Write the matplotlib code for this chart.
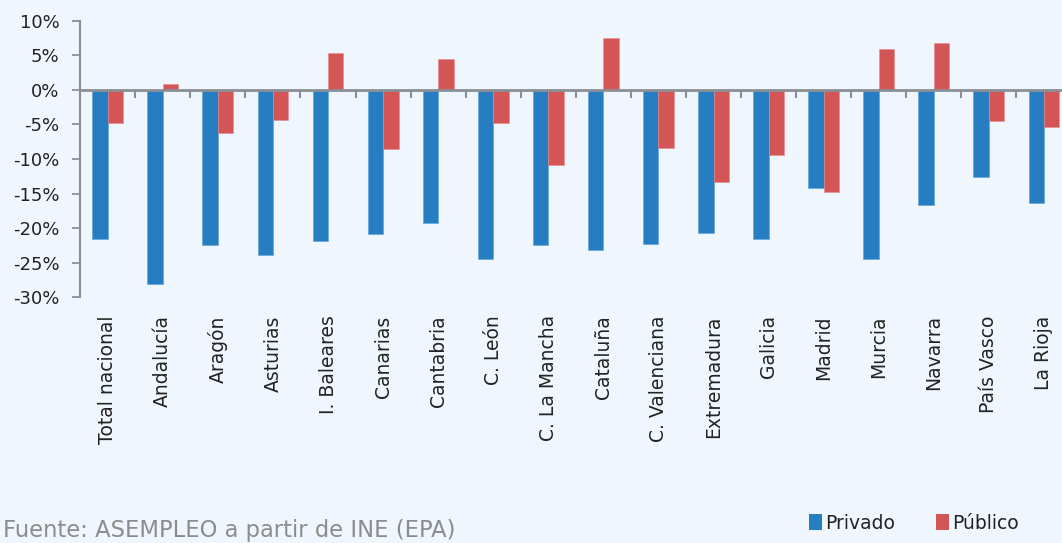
import matplotlib
matplotlib.use("Agg")
import matplotlib.pyplot as plt
import numpy as np
from matplotlib.patches import Patch
from matplotlib.ticker import FuncFormatter, FixedLocator

categories = ["Total nacional", "Andalucía", "Aragón", "Asturias", "I. Baleares",
              "Canarias", "Cantabria", "C. León", "C. La Mancha", "Cataluña",
              "C. Valenciana", "Extremadura", "Galicia", "Madrid", "Murcia",
              "Navarra", "País Vasco", "La Rioja"]
privado = [-21.6, -28.1, -22.5, -23.9, -21.8, -20.9, -19.3, -24.4, -22.5, -23.2,
           -22.3, -20.7, -21.6, -14.2, -24.4, -16.7, -12.6, -16.3]
publico = [-4.8, 0.8, -6.3, -4.3, 5.4, -8.6, 4.5, -4.8, -10.9, 7.5,
           -8.4, -13.3, -9.4, -14.7, 5.9, 6.8, -4.5, -5.4]
yticks = [-30, -25, -20, -15, -10, -5, 0, 5, 10]

BG = "#f0f6fd"
BLUE = "#267dc2"
RED = "#d45555"
GRAY = "#8a8f96"

fig = plt.figure(figsize=(10.62, 5.43), dpi=100, facecolor=BG)
ax = fig.add_axes([80.2 / 1062, 1 - 297.3 / 543, 1 - 80.2 / 1062, (297.3 - 20.7) / 543])
ax.set_facecolor(BG)

n = len(categories)
x = np.arange(n)
w = 0.28
ax.bar(x - w / 2, privado, width=w, color=BLUE, edgecolor="#5aa0d8", linewidth=0.4, zorder=2)
ax.bar(x + w / 2, publico, width=w, color=RED, edgecolor="#e88a8a", linewidth=0.4, zorder=2)

ax.set_ylim(-30, 10)
ax.set_xlim(-0.5, n - 1 + 18 / 55)
ax.set_yticks(yticks)
ax.yaxis.set_major_formatter(FuncFormatter(lambda v, p: f"{int(v)}%".replace("\u2212", "-")))

for s in ["top", "right"]:
    ax.spines[s].set_visible(False)
ax.spines["left"].set_color(GRAY)
ax.spines["left"].set_linewidth(1.5)
ax.spines["bottom"].set_position(("data", 0))
ax.spines["bottom"].set_color(GRAY)
ax.spines["bottom"].set_linewidth(2)
ax.spines["bottom"].set_zorder(3)

ax.tick_params(axis="y", direction="out", length=6, width=1.3, color=GRAY,
               labelsize=13, labelcolor="#222222", pad=9)
ax.xaxis.set_major_locator(FixedLocator(x))
ax.xaxis.set_minor_locator(FixedLocator(x[:-1] + 0.5))
ax.tick_params(axis="x", which="major", length=0, labelbottom=False)
ax.tick_params(axis="x", which="minor", direction="out", length=6, width=1.5, color=GRAY)

sec = ax.secondary_xaxis(0.0)
sec.set_xticks(x)
sec.set_xticklabels(categories, rotation=90, fontsize=13.5, color="#222222")
sec.tick_params(length=0, pad=13)
sec.spines["bottom"].set_visible(False)

fig.text(0.003, 1 - 537 / 543, "Fuente: ASEMPLEO a partir de INE (EPA)",
         fontsize=16.3, color="#8c8c8c", ha="left", va="baseline")

handles = [Patch(facecolor=BLUE, label="Privado"), Patch(facecolor=RED, label="Público")]
leg = fig.legend(handles=handles, loc="lower right", bbox_to_anchor=(0.975, -0.012),
                 ncol=2, frameon=False, fontsize=13.5, handlelength=0.7,
                 handleheight=0.9, handletextpad=0.15, columnspacing=2.2)
for t in leg.get_texts():
    t.set_color("#222222")

fig.savefig("out.png", dpi=100, facecolor=BG)
